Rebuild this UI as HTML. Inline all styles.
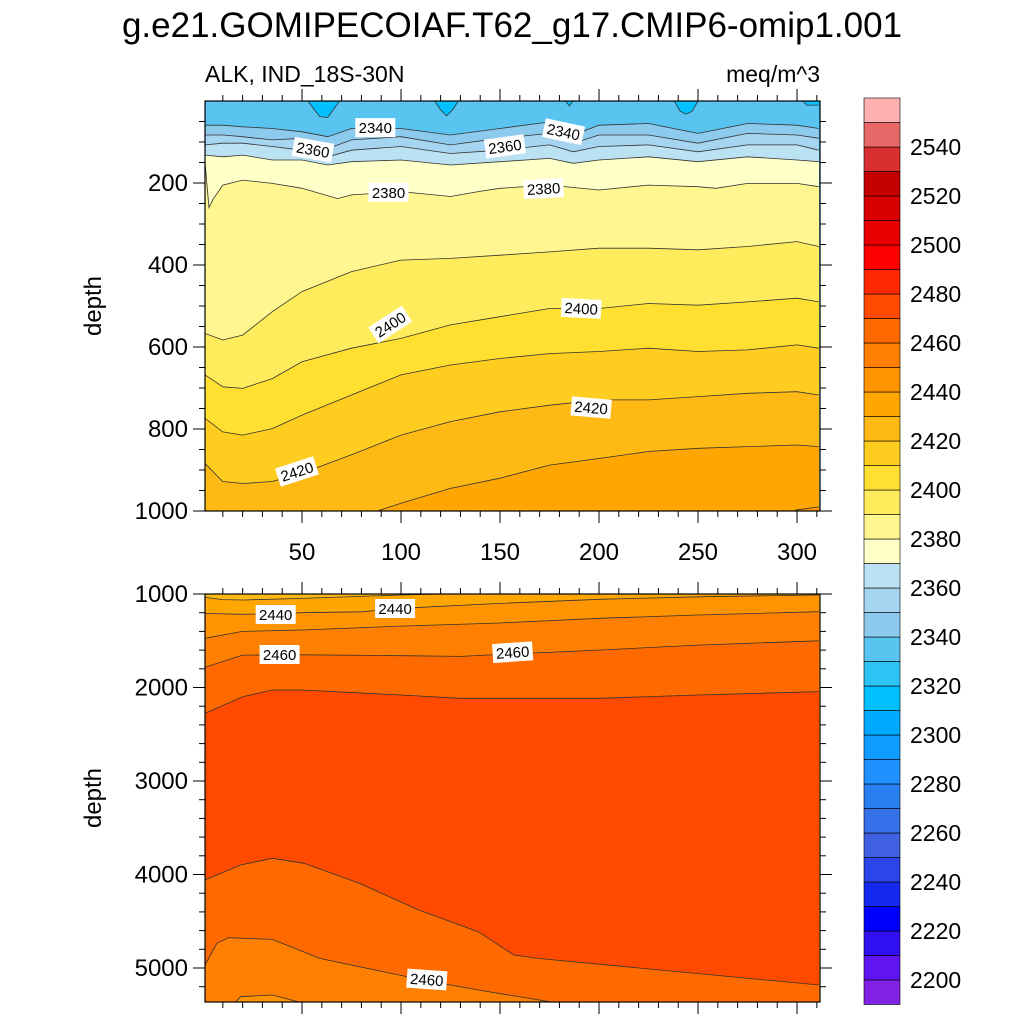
<!DOCTYPE html>
<html><head><meta charset="utf-8"><style>
html,body{margin:0;padding:0;background:#fff;}
svg{display:block;font-family:"Liberation Sans",sans-serif;}
</style></head><body>
<svg id="chart" width="1024" height="1024" viewBox="0 0 1024 1024" xmlns="http://www.w3.org/2000/svg">
<defs>
<clipPath id="clipTop"><rect x="205" y="101" width="615" height="410"/></clipPath>
<clipPath id="clipBot"><rect x="205" y="594" width="615" height="408"/></clipPath>
</defs>
<text x="512" y="37" text-anchor="middle" font-size="35" fill="#000">g.e21.GOMIPECOIAF.T62_g17.CMIP6-omip1.001</text>
<text x="205" y="82" font-size="23" fill="#000">ALK, IND_18S-30N</text>
<text x="820" y="82" text-anchor="end" font-size="23" fill="#000">meq/m^3</text>
<text transform="translate(101,306) rotate(-90)" text-anchor="middle" font-size="24">depth</text>
<text transform="translate(101,798) rotate(-90)" text-anchor="middle" font-size="24">depth</text>
<g id="topFill" clip-path="url(#clipTop)"></g>
<g id="botFill" clip-path="url(#clipBot)"></g>
<g id="axes"></g>
<g id="cbar"></g>
</svg>
<script>
const bandColors = ["#8122e6","#5f14f0","#3010f0","#0000ff","#1528f0","#2a45e8","#3f60e0","#3570e8","#2880f0","#1e90ff","#0f9bff","#00aaff","#00c0ff","#2cc4f5","#5ac4f0","#8ccbee","#a5d5f0","#bae2f3","#ffffc8","#fff690","#ffec5c","#ffe030","#ffcc20","#ffb914","#ffa700","#ff9400","#ff8000","#ff6a00","#ff4a00","#ff2800","#ff0000","#e80000","#d80000","#c40000","#d83030","#e86868","#ffb0b0"];
const cbarLabels = [2200,2220,2240,2260,2280,2300,2320,2340,2360,2380,2400,2420,2440,2460,2480,2500,2520,2540];

const top2330 = [[1,0],[53,0],[56,20],[59,38],[63,40],[66,20],[69,0],[117,0],[120,22],[123,36],[126,22],[129,0],[183,0],[185,12],[187,0],[238,0],[241,25],[244,32],[247,25],[250,0],[303,0],[305,10],[311,10]];
const xsShallow = [1,10,20,35,50,63,75,100,125,150,175,187,200,225,250,275,300,311];
const top2340 = [59,59,63,67,75,87,67,67,83,67,51,83,59,55,79,55,59,67];
const top2350 = [83,83,87,95,91,116,95,87,107,91,79,103,83,83,103,79,83,91];
const top2360 = [107,103,103,111,120,136,120,111,128,120,107,124,111,107,124,107,107,120];
const top2370 = [132,136,132,144,144,156,148,144,156,148,140,152,144,136,148,136,144,148];
const top2380 = [[1,150],[3,260],[5,240],[10,205],[20,193],[35,201],[50,213],[68,238],[75,229],[100,221],[125,233],[139,221],[150,213],[175,205],[200,217],[225,205],[250,209],[259,213],[275,201],[300,201],[311,209]];
const xsDeep = [1,10,20,35,50,75,100,125,150,175,200,225,250,275,300,311];
const top2390 = [567,583,571,514,465,416,388,384,376,368,359,359,363,355,343,355];
const top2400 = [668,697,701,677,636,603,579,546,526,506,506,494,498,490,481,490];
const top2410 = [774,807,815,799,766,717,668,644,628,616,611,603,611,607,595,603];
const top2420 = [884,928,933,928,908,863,815,782,758,742,729,729,721,713,709,717];
const top2430 = [[85,1005],[100,981],[125,945],[150,920],[175,888],[200,872],[225,855],[250,847],[275,843],[300,839],[311,843]];
const top2440 = [[296,1005],[300,997],[311,990]];

const bot2430 = [[1,1036],[10,1060],[20,1064],[50,1047],[100,1011],[130,995],[131,990],[311,990]];
const bot2440 = [[1,1207],[20,1217],[50,1200],[80,1190],[100,1153],[150,1100],[200,1057],[250,1030],[311,1011]];
const bot2450 = [[1,1474],[20,1400],[50,1385],[100,1343],[150,1310],[200,1260],[250,1225],[311,1189]];
const bot2460 = [[1,1784],[20,1653],[50,1650],[100,1660],[130,1667],[150,1647],[200,1600],[250,1547],[311,1500]];
const bot2470 = [[1,2276],[20,2098],[35,2027],[50,2027],[100,2080],[130,2116],[200,2116],[250,2080],[311,2044]];
const bot2470b = [[1,4059],[19,3898],[35,3827],[51,3880],[79,4094],[109,4380],[139,4612],[157,4861],[169,4897],[311,5182]];
const bot2460b = [[1,4968],[7,4736],[13,4676],[35,4694],[59,4897],[99,5075],[111,5128],[139,5235],[180,5378]];
const bot2450b = [[15,5400],[19,5307],[35,5289],[51,5378],[54,5400]];

const topLabels = [["2340",87,66,0],["2340",182,76,12],["2360",55.5,120,10],["2360",152.5,112,-8],["2380",93.7,224,0],["2380",172,215,-3],["2400",94.7,546,-33],["2400",191,507,3],["2420",196,749,5],["2420",47.5,905,-18]];
const botLabels = [["2440",36.7,1225,0],["2440",97,1160,0],["2460",38.7,1652,0],["2460",156.4,1628,-4],["2460",113,5128,4]];

const xTicksMajor = [50,100,150,200,250,300];
const topYMajor = [200,400,600,800,1000];
const botYMajor = [1000,2000,3000,4000,5000];

const NS = "http://www.w3.org/2000/svg";
function xS(x){ return 205 + (x-1)*1.98; }
function yT(d){ return 101 + d*0.41; }
function yB(d){ return 594 + (d-1000)*0.0935; }
function mk(tag, attrs, parent){ const e=document.createElementNS(NS,tag); for(const k in attrs) e.setAttribute(k,attrs[k]); parent.appendChild(e); return e; }
function zip(xs, ds){ return xs.map((x,i)=>[x,ds[i]]); }

function drawBand(g, pts, color, yf, bottomDepth, name){
  const line = pts.map(p=>xS(p[0]).toFixed(1)+","+yf(p[1]).toFixed(1));
  const first = pts[0], last = pts[pts.length-1];
  const poly = line.concat([xS(last[0]).toFixed(1)+","+yf(bottomDepth).toFixed(1), xS(first[0]).toFixed(1)+","+yf(bottomDepth).toFixed(1)]);
  const p = mk("polygon",{points:poly.join(" "),fill:color,stroke:color,"stroke-width":"0.5"},g);
  
  
}
function drawLine(g, pts, yf, name){
  const l = mk("polyline",{points:pts.map(p=>xS(p[0]).toFixed(1)+","+yf(p[1]).toFixed(1)).join(" "),fill:"none",stroke:"#333","stroke-width":"0.8"},g);
  
  
}
function band(level, increasing){ return bandColors[(level-2190)/10 + (increasing?0:-1)]; }

const tg = document.getElementById("topFill");
const bg1 = mk("rect",{x:205,y:101,width:615,height:410,fill:bandColors[12]},tg);


const topLines = [
 [2330, top2330],[2340, zip(xsShallow,top2340)],[2350, zip(xsShallow,top2350)],[2360, zip(xsShallow,top2360)],
 [2370, zip(xsShallow,top2370)],[2380, top2380],[2390, zip(xsDeep,top2390)],[2400, zip(xsDeep,top2400)],
 [2410, zip(xsDeep,top2410)],[2420, zip(xsDeep,top2420)],[2430, top2430],[2440, top2440]];
topLines.forEach(([lv,pts])=>drawBand(tg,pts,band(lv,true),yT,1200,'top-'+lv));
topLines.forEach(([lv,pts])=>drawLine(tg,pts,yT,'top-'+lv));

const bgp = document.getElementById("botFill");
const bg2 = mk("rect",{x:205,y:594,width:615,height:408,fill:bandColors[23]},bgp);


const botLines = [[2430,bot2430,true],[2440,bot2440,true],[2450,bot2450,true],[2460,bot2460,true],[2470,bot2470,true],[2470,bot2470b,false],[2460,bot2460b,false],[2450,bot2450b,false]];
botLines.forEach(([lv,pts,inc],i)=>drawBand(bgp,pts,band(lv,inc),yB,5600,'bottom-'+lv+'-'+i));
botLines.forEach(([lv,pts],i)=>drawLine(bgp,pts,yB,'bottom-'+lv+'-'+i));

function drawLabels(g, labels, yf, prefix){
  labels.forEach(([t,x,d,a])=>{
    const cx=xS(x), cy=yf(d);
    const grp = mk("g",{transform:`translate(${cx.toFixed(1)},${cy.toFixed(1)}) rotate(${a})`},g);
    
    
    mk("rect",{x:-20,y:-10,width:40,height:19,fill:"#fff"},grp);
    const tx = mk("text",{x:0,y:5,"text-anchor":"middle","font-size":"15",fill:"#000"},grp);
    tx.textContent = t;
  });
}
drawLabels(tg, topLabels, yT, 'top');
drawLabels(bgp, botLabels, yB, 'bottom');

const ax = document.getElementById("axes");
function tick(x1,y1,x2,y2,name){ const l=mk("line",{x1,y1,x2,y2,stroke:"#000","stroke-width":"1"},ax);   }
function label(x,y,t,anchor,name){ const e=mk("text",{x,y,"text-anchor":anchor,"font-size":"24",fill:"#000"},ax); e.textContent=t;   }
[[101,511],[594,1002]].forEach(([t,b],pi)=>{
  const fr = mk("rect",{x:205,y:t,width:615,height:b-t,fill:"none",stroke:"#000","stroke-width":"1.2"},ax);
  
  
  for(let v=10; v<=310; v+=10){
    const maj = xTicksMajor.includes(v), L = maj?12:6, X=xS(v);
    tick(X,t,X,t-L,'x-tick'); tick(X,b,X,b+L,'x-tick');
  }
});
xTicksMajor.forEach(v=>label(xS(v),560,String(v),"middle",'x-tick-label-'+v));
for(let d=50; d<=1000; d+=50){
  const maj = topYMajor.includes(d), L=maj?12:6, Y=yT(d);
  tick(205,Y,205-L,Y,'top-y-tick'); tick(820,Y,820+L,Y,'top-y-tick');
}
topYMajor.forEach(d=>label(188,yT(d)+8,String(d),"end",'top-y-tick-label-'+d));
for(let d=1000; d<=5200; d+=200){
  const maj = botYMajor.includes(d), L=maj?12:6, Y=yB(d);
  tick(205,Y,205-L,Y,'bottom-y-tick'); tick(820,Y,820+L,Y,'bottom-y-tick');
}
botYMajor.forEach(d=>label(188,yB(d)+8,String(d),"end",'bottom-y-tick-label-'+d));

const cb = document.getElementById("cbar");
const cbTop=98, cbH=24.5, n=bandColors.length;
function cbY(level){ return cbTop + (n - (level-2190)/10)*cbH; }
bandColors.forEach((c,k)=>{
  const r = mk("rect",{x:864,y:(cbTop+(n-1-k)*cbH).toFixed(1),width:36,height:cbH,fill:c,stroke:"#000","stroke-width":"0.6"},cb);
  
  
});
cbarLabels.forEach(v=>{
  const e = mk("text",{x:910,y:(cbY(v)+8).toFixed(1),"font-size":"23",fill:"#000"},cb);
  e.textContent = String(v);
  
  
});
</script>
</body></html>
